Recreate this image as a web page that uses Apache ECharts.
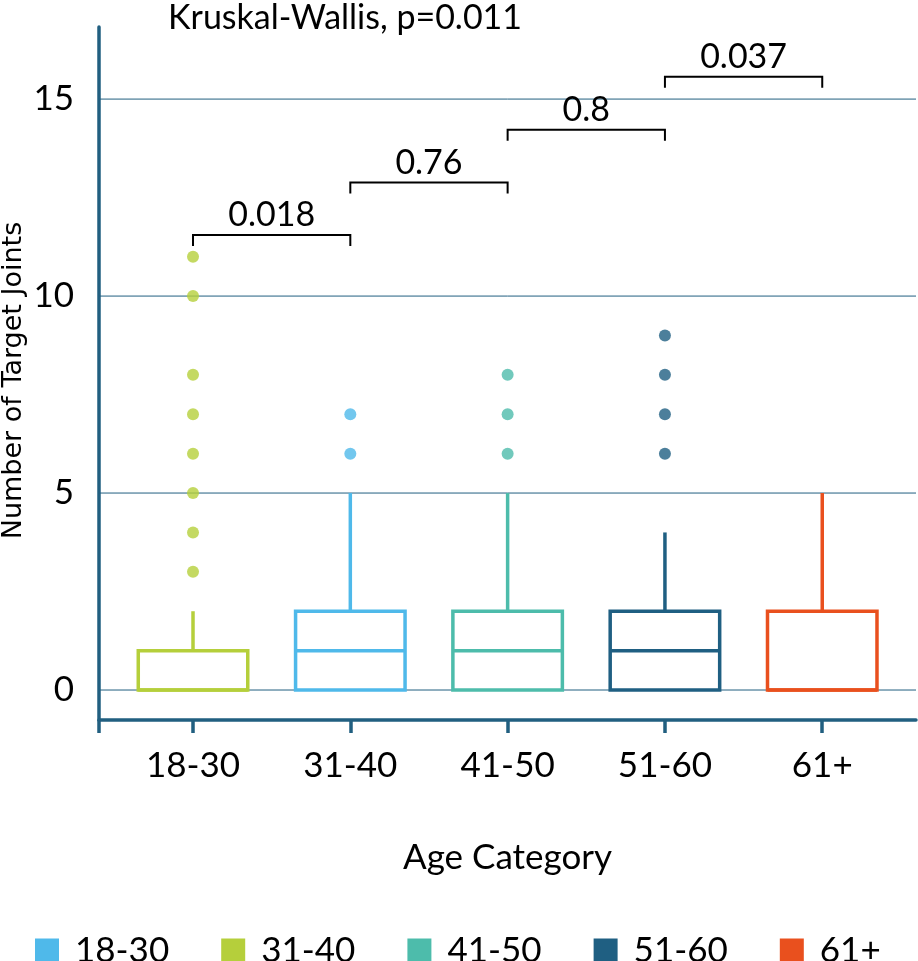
<!DOCTYPE html>
<html>
<head>
<meta charset="utf-8">
<script src="https://cdn.jsdelivr.net/npm/echarts@6.0.0/dist/echarts.min.js"></script>
<style>
html,body{margin:0;padding:0;background:#fff;}
#chart{width:918px;height:961px;}
</style>
</head>
<body>
<div id="chart"></div>
<script>
// ---- data ----
const categories = ['18-30', '31-40', '41-50', '51-60', '61+'];
const lowerWhisker = [0, 0, 0, 0, 0];
const q1 = [0, 0, 0, 0, 0];
const median = [0, 1, 1, 1, 0];
const q3 = [1, 2, 2, 2, 2];
const upperWhisker = [2, 5, 5, 4, 5];
const outliers = [[3, 4, 5, 6, 7, 8, 10, 11], [6, 7], [6, 7, 8], [6, 7, 8, 9], []];
const comparisons = [[0, 1], [1, 2], [2, 3], [3, 4]];
const pLabels = ['0.018', '0.76', '0.8', '0.037'];
const bracketHeights = [11.55, 12.88, 14.22, 15.57];
const yTicks = [0, 5, 10, 15];
const titleText = 'Kruskal-Wallis, p=0.011';

// ---- styles ----
const boxColors = ['#b5cf3b', '#4fb9ea', '#4dbcab', '#1f5f82', '#e9501e'];
const legendColors = ['#4fb9ea', '#b5cf3b', '#4dbcab', '#1f5f82', '#e9501e'];
const axisColor = '#215f80';
const FONT = 'Lato';

const chart = echarts.init(document.getElementById('chart'), null, {renderer: 'canvas'});

const series = [];

// gridlines
series.push({
  type: 'custom',
  name: '__grid',
  silent: true,
  z: 1,
  data: yTicks.map(v => [v]),
  renderItem: function (params, api) {
    const cs = params.coordSys;
    const p = api.coord([1, api.value(0)]);
    return {
      type: 'line',
      shape: {x1: cs.x, y1: p[1], x2: cs.x + cs.width, y2: p[1]},
      style: {stroke: axisColor, lineWidth: 1}
    };
  }
});

const halfW = 0.348;
categories.forEach((c, i) => {
  series.push({
    type: 'custom',
    name: c,
    z: 3,
    silent: true,
    itemStyle: {color: legendColors[i]},
    data: [[i + 1, lowerWhisker[i], q1[i], median[i], q3[i], upperWhisker[i]]],
    renderItem: function (params, api) {
      const x = api.value(0);
      const lw = api.value(1), a = api.value(2), m = api.value(3), b = api.value(4), uw = api.value(5);
      const lt = api.coord([x - halfW, b]);
      const rb = api.coord([x + halfW, a]);
      const ml = api.coord([x - halfW, m]);
      const mr = api.coord([x + halfW, m]);
      const wt = api.coord([x, uw]);
      const wb = api.coord([x, lw]);
      const cq3 = api.coord([x, b]);
      const cq1 = api.coord([x, a]);
      const st = {stroke: boxColors[i], lineWidth: 3.5, fill: null};
      return {
        type: 'group',
        children: [
          {type: 'line', shape: {x1: cq3[0], y1: cq3[1], x2: wt[0], y2: wt[1]}, style: st},
          {type: 'line', shape: {x1: cq1[0], y1: cq1[1], x2: wb[0], y2: wb[1]}, style: st},
          {type: 'rect', shape: {x: lt[0], y: lt[1], width: rb[0] - lt[0], height: rb[1] - lt[1]}, style: st},
          {type: 'line', shape: {x1: ml[0], y1: ml[1], x2: mr[0], y2: mr[1]}, style: st}
        ]
      };
    }
  });
  series.push({
    type: 'scatter',
    name: c,
    z: 4,
    silent: true,
    symbol: 'circle',
    symbolSize: 12,
    itemStyle: {color: boxColors[i]},
    data: outliers[i].map(v => [i + 1, v])
  });
});

// brackets
series.push({
  type: 'custom',
  name: '__brackets',
  silent: true,
  z: 5,
  data: comparisons.map((p, k) => [p[0] + 1, p[1] + 1, bracketHeights[k], k]),
  renderItem: function (params, api) {
    const x1 = api.value(0), x2 = api.value(1), h = api.value(2), k = api.value(3);
    const a = api.coord([x1, h]);
    const b = api.coord([x2, h]);
    const tick = 11;
    return {
      type: 'group',
      children: [
        {type: 'polyline', shape: {points: [[a[0], a[1] + tick], [a[0], a[1]], [b[0], b[1]], [b[0], b[1] + tick]]},
         style: {stroke: '#000', lineWidth: 2, fill: null}},
        {type: 'text', x: (a[0] + b[0]) / 2, y: a[1] - 3,
         style: {text: pLabels[k], fill: '#000', font: '34px ' + FONT, textAlign: 'center', textVerticalAlign: 'bottom'}}
      ]
    };
  }
});

const option = {
  animation: false,
  backgroundColor: '#fff',
  title: {
    text: titleText,
    left: 163,
    top: -4,
    textStyle: {fontFamily: FONT, fontSize: 34, fontWeight: 'normal', color: '#000'}
  },
  legend: {
    data: categories.map((c, i) => ({name: c, itemStyle: {color: legendColors[i]}})),
    left: 35,
    top: 933,
    width: 900,
    padding: 0,
    icon: 'rect',
    itemWidth: 24,
    itemHeight: 24,
    itemGap: 52,
    selectedMode: false,
    textStyle: {fontFamily: FONT, fontSize: 35, color: '#000', lineHeight: 24, width: 87, padding: [0, 0, 0, 11]}
  },
  grid: {left: 99, right: 2, top: 27, bottom: 241, containLabel: false, outerBoundsMode: 'none'},
  xAxis: {
    type: 'value',
    min: 0.4024,
    max: 5.596,
    name: 'Age Category',
    nameLocation: 'middle',
    nameGap: 120,
    nameMoveOverlap: false,
    nameTextStyle: {fontFamily: FONT, fontSize: 35, color: '#000'},
    axisLine: {show: true, onZero: false, lineStyle: {color: axisColor, width: 3.5}},
    axisTick: {show: true, customValues: [0.4024, 1, 2, 3, 4, 5], length: 13, lineStyle: {color: axisColor, width: 3.5}},
    axisLabel: {
      customValues: [1, 2, 3, 4, 5],
      formatter: v => categories[Math.round(v) - 1] || '',
      fontFamily: FONT, fontSize: 35, color: '#000', margin: 28
    },
    splitLine: {show: false}
  },
  yAxis: {
    type: 'value',
    min: -0.761,
    max: 16.83,
    name: 'Number of Target Joints',
    nameLocation: 'middle',
    nameGap: 72,
    nameMoveOverlap: false,
    nameTextStyle: {fontFamily: 'DejaVu Sans', fontSize: 27, color: '#000', padding: [0, 14, 0, 0]},
    axisLine: {show: true, onZero: false, lineStyle: {color: axisColor, width: 3.5}},
    axisTick: {show: false},
    axisLabel: {
      customValues: yTicks,
      fontFamily: FONT, fontSize: 35, color: '#000', margin: 25
    },
    splitLine: {show: false}
  },
  series: series
};
chart.setOption(option);
</script>
</body>
</html>
